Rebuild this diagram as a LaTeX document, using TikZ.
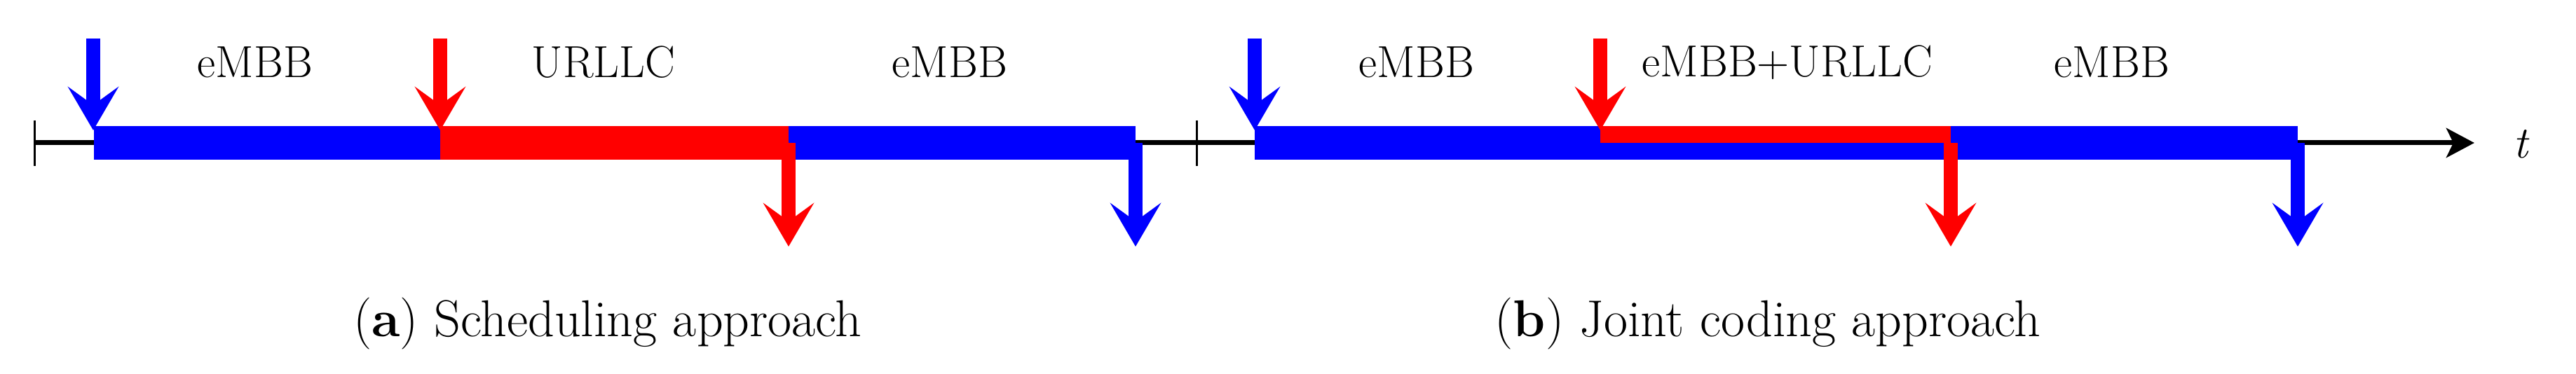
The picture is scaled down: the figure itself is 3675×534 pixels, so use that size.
\documentclass[tikz,border=0pt]{standalone}
\usetikzlibrary{arrows.meta}
\begin{document}
\begin{tikzpicture}[x=1pt,y=1pt,
  arr/.style={line width=20pt,-{Stealth[length=62pt 0,width=72pt 0,inset=26pt 0]}},
  lbl/.style={font=\fontsize{64}{70}\selectfont,inner sep=0pt},
  captxt/.style={font=\fontsize{74}{80}\selectfont,inner sep=0pt}]
\useasboundingbox (0,0) rectangle (3675,-534);
% axis
\coordinate (a0) at (49,-204);
\coordinate (a1) at (3530,-204);
\draw[line width=7pt] (a0) -- (1700,-204);
\draw[line width=7pt,-{Stealth[length=40pt 0,width=42pt 0,inset=10pt 0]}] (1700,-204) -- (a1);
\draw[line width=3pt] (49,-172) -- (49,-237);
\draw[line width=3pt] (1707,-172) -- (1707,-237);
\node[lbl,anchor=west] (t) at (3585,-206) {\itshape t};
% panel a bars
\fill[blue] (134,-180) rectangle (628,-228);
\fill[red] (628,-180) rectangle (1125,-228);
\fill[blue] (1125,-180) rectangle (1620,-228);
% panel b bars
\fill[blue] (1790,-180) rectangle (2283,-228);
\fill[red] (2283,-180) rectangle (2783,-204);
\fill[blue] (2283,-204) rectangle (2783,-228);
\fill[blue] (2783,-180) rectangle (3278,-228);
% arrows a
\coordinate (b1s) at (133,-55); \coordinate (b1e) at (133,-186);
\coordinate (r1s) at (628,-55); \coordinate (r1e) at (628,-186);
\coordinate (r2s) at (1125,-204); \coordinate (r2e) at (1125,-352);
\coordinate (b2s) at (1620,-204); \coordinate (b2e) at (1620,-352);
\draw[arr,blue] (b1s) -- (b1e);
\draw[arr,red] (r1s) -- (r1e);
\draw[arr,red] (r2s) -- (r2e);
\draw[arr,blue] (b2s) -- (b2e);
% arrows b
\coordinate (b3s) at (1790,-55); \coordinate (b3e) at (1790,-186);
\coordinate (r3s) at (2283,-55); \coordinate (r3e) at (2283,-186);
\coordinate (r4s) at (2783,-204); \coordinate (r4e) at (2783,-352);
\coordinate (b4s) at (3278,-204); \coordinate (b4e) at (3278,-352);
\draw[arr,blue] (b3s) -- (b3e);
\draw[arr,red] (r3s) -- (r3e);
\draw[arr,red] (r4s) -- (r4e);
\draw[arr,blue] (b4s) -- (b4e);
% labels
\node[lbl] (l1) at (364,-89) {eMBB};
\node[lbl] (l2) at (861,-89) {URLLC};
\node[lbl] (l3) at (1355,-89) {eMBB};
\node[lbl] (l4) at (2021,-89) {eMBB};
\node[lbl] (l5) at (2550,-89) {eMBB+URLLC};
\node[lbl] (l6) at (3013,-89) {eMBB};
\node[captxt] (c1) at (867,-462) {(\textbf{a}) Scheduling approach};
\node[captxt] (c2) at (2522,-462) {(\textbf{b}) Joint coding approach};
\end{tikzpicture}
\end{document}
